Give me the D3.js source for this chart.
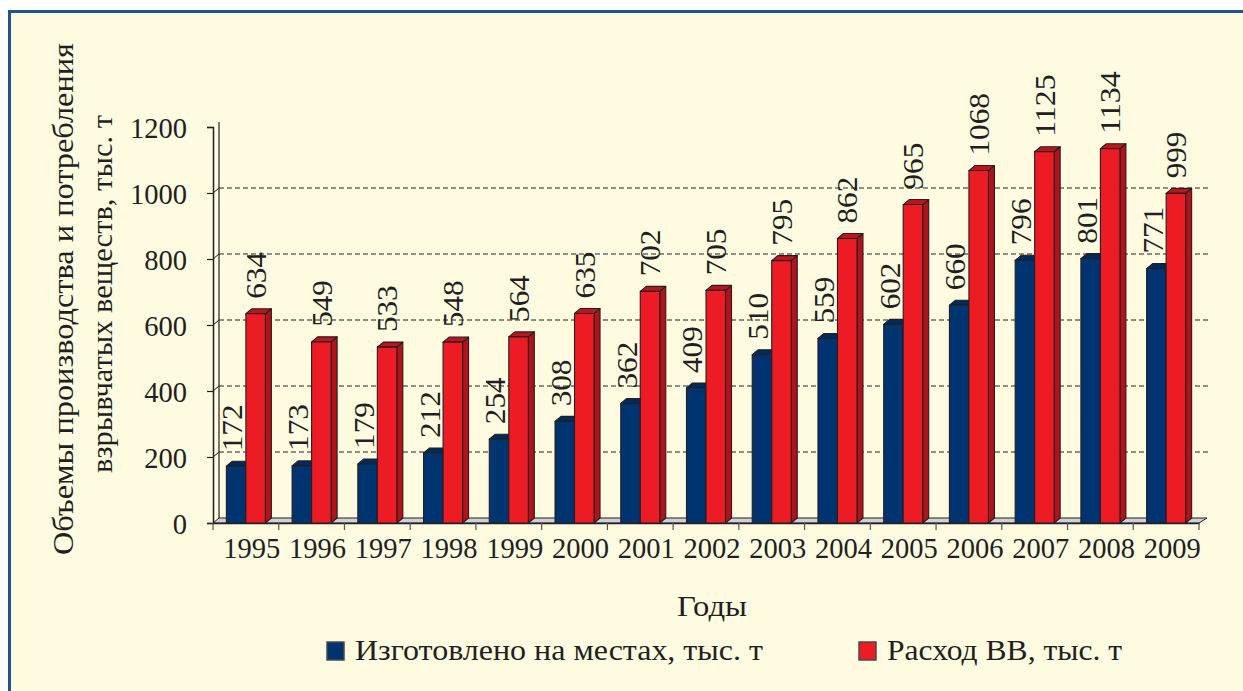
<!DOCTYPE html>
<html><head><meta charset="utf-8">
<script src="https://cdn.jsdelivr.net/npm/d3@7"></script>
<style>
html,body{margin:0;padding:0;background:#fff;}
svg{display:block;}
svg text{font-family:"Liberation Serif","Times New Roman",serif !important;fill:#231f20;}
</style></head>
<body>
<svg id="chart" width="1243" height="691"></svg>
<script>
const years = ["1995","1996","1997","1998","1999","2000","2001","2002","2003","2004","2005","2006","2007","2008","2009"];
const seriesNames = ["Изготовлено на местах, тыс. т","Расход ВВ, тыс. т"];
const produced = [172,173,179,212,254,308,362,409,510,559,602,660,796,801,771];
const consumed = [634,549,533,548,564,635,702,705,795,862,965,1068,1125,1134,999];
const yTicks = [0,200,400,600,800,1000,1200];
const gridTicks = [200,400,600,800,1000];
const yTitle = ["Объемы производства и потребления","взрывчатых веществ, тыс. т"];
const xTitle = "Годы";

const FONT = "Liberation Serif, Times New Roman, serif";
const svg = d3.select("#chart");
// frame
svg.append("rect").attr("x",9.5).attr("y",11.5).attr("width",1400).attr("height",900)
  .attr("fill","#fefbe0").attr("stroke","#22528f").attr("stroke-width",3);

const x0 = 213, x1 = 1199, yBase = 523, yTop = 127;
const dx = 6, dy = 5;
const x = d3.scaleBand().domain(years).range([x0,x1]).paddingInner(0).paddingOuter(0);
const xs = d3.scaleBand().domain([0,1]).range([0,x.bandwidth()]).paddingInner(0).paddingOuter(0.685);
const y = d3.scaleLinear().domain([0,1200]).range([yBase,yTop]);

// back wall left edge
svg.append("line").attr("x1",x0+dx).attr("x2",x0+dx).attr("y1",y(1200)-dy).attr("y2",yBase-dy)
  .attr("stroke","#231f20").attr("stroke-width",1.2);
// gridlines
gridTicks.forEach(t=>{
  svg.append("line").attr("x1",x0+dx).attr("x2",x1+dx+3).attr("y1",y(t)-dy).attr("y2",y(t)-dy)
    .attr("stroke","#222").attr("stroke-width",1).attr("stroke-dasharray","5,3");
  svg.append("line").attr("x1",x0).attr("x2",x0+dx).attr("y1",y(t)).attr("y2",y(t)-dy)
    .attr("stroke","#231f20").attr("stroke-width",1);
});
// floor
svg.append("polygon")
  .attr("points",[[x0,yBase],[x1,yBase],[x1+dx+2,yBase-dy],[x0+dx,yBase-dy]].map(p=>p.join(",")).join(" "))
  .attr("fill","#cfd0d8").attr("stroke","#231f20").attr("stroke-width",1);

// y axis
const yAxis = d3.axisLeft(y).tickValues(yTicks).tickFormat(d3.format("d")).tickSize(6).tickPadding(20);
const gy = svg.append("g").attr("transform",`translate(${x0},0)`).call(yAxis)
  .attr("font-family",FONT);
gy.select(".domain").attr("stroke","#231f20").attr("stroke-width",1.5);
gy.selectAll(".tick line").attr("stroke","#231f20").attr("stroke-width",1.2);
gy.selectAll(".tick text").attr("font-size",30).attr("fill","#231f20")
  .attr("font-family",FONT)
  .attr("dy","0.34em")
  .attr("textLength",d=>String(d).length*14.25).attr("lengthAdjust","spacingAndGlyphs");

// x axis
const xAxis = d3.axisBottom(x).tickSize(0).tickPadding(0);
const gx = svg.append("g").attr("transform",`translate(0,${yBase})`).call(xAxis)
  .attr("font-family",FONT);
gx.select(".domain").attr("stroke","#231f20").attr("stroke-width",1.5);
gx.selectAll(".tick text").attr("font-size",30).attr("fill","#231f20")
  .attr("font-family",FONT)
  .attr("x",6).attr("y",35).attr("dy",0)
  .attr("textLength",57).attr("lengthAdjust","spacingAndGlyphs");
// band boundary ticks
const bounds = years.map(d=>x(d)).concat([x1]);
gx.selectAll("line.bt").data(bounds).enter().append("line").attr("class","bt")
  .attr("x1",d=>d).attr("x2",d=>d).attr("y1",0).attr("y2",7)
  .attr("stroke","#555").attr("stroke-width",1.2);

// bars
const styles = [
  {front:"#003471", side:"#00224f", top:"#002a5c"},
  {front:"#ed1c24", side:"#b3121a", top:"#be151d"}
];
const data = [produced, consumed];
const bw = xs.bandwidth();
const gBars = svg.append("g");
years.forEach((yr,i)=>{
  [0,1].forEach(s=>{
    const v = data[s][i];
    const bx = x(yr)+xs(s);
    const by = y(v);
    const st = styles[s];
    const g = gBars.append("g").attr("stroke","#231f20").attr("stroke-width",1.1).attr("stroke-linejoin","round");
    g.append("polygon").attr("points",[[bx+bw,by],[bx+bw+dx,by-dy],[bx+bw+dx,yBase-dy],[bx+bw,yBase]].map(p=>p.join(",")).join(" "))
      .attr("fill",st.side);
    g.append("polygon").attr("points",[[bx,by],[bx+dx,by-dy],[bx+bw+dx,by-dy],[bx+bw,by]].map(p=>p.join(",")).join(" "))
      .attr("fill",st.top);
    g.append("rect").attr("x",bx).attr("y",by).attr("width",bw).attr("height",yBase-by).attr("fill",st.front);
  });
});
// value labels
years.forEach((yr,i)=>{
  [0,1].forEach(s=>{
    const v = data[s][i];
    const bx = x(yr)+xs(s);
    const lx = bx + (s===0?16:20);
    const ly = y(v) - 15;
    svg.append("text").attr("transform",`translate(${lx},${ly}) rotate(-90)`)
      .attr("font-family",FONT)
      .attr("font-size",29).attr("text-anchor","start")
      .attr("textLength",String(v).length*15.6).attr("lengthAdjust","spacingAndGlyphs")
      .text(v);
  });
});

// y title
svg.append("text").attr("transform","translate(73,299) rotate(-90)").attr("text-anchor","middle")
  .attr("font-family",FONT)
  .attr("font-size",30).attr("textLength",512).attr("lengthAdjust","spacingAndGlyphs").text(yTitle[0]);
svg.append("text").attr("transform","translate(112,294) rotate(-90)").attr("text-anchor","middle")
  .attr("font-family",FONT)
  .attr("font-size",30).attr("textLength",358).attr("lengthAdjust","spacingAndGlyphs").text(yTitle[1]);
// x title
svg.append("text").attr("x",677).attr("y",616).attr("font-size",29).attr("font-family",FONT)
  .attr("textLength",70).attr("lengthAdjust","spacingAndGlyphs").text(xTitle);

// legend
const legendX = [327, 859], legendW = [408, 235];
seriesNames.forEach((n,i)=>{
  svg.append("rect").attr("x",legendX[i]).attr("y",642).attr("width",17).attr("height",18)
    .attr("fill",styles[i].front).attr("stroke","#4a4a4a").attr("stroke-width",1.5);
  svg.append("text").attr("x",legendX[i]+28).attr("y",660).attr("font-size",30).attr("font-family",FONT)
    .attr("textLength",legendW[i]).attr("lengthAdjust","spacingAndGlyphs").text(n);
});
</script>
</body></html>
